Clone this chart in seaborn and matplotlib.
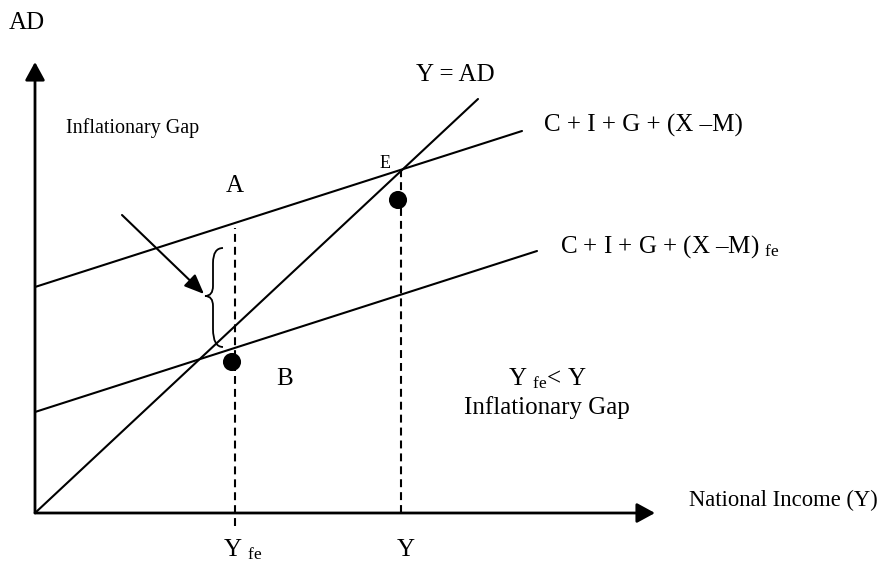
import matplotlib
matplotlib.use("Agg")
import matplotlib.pyplot as plt
import seaborn as sns
from matplotlib.path import Path
from matplotlib.patches import PathPatch

# Diagram values (units: screen-ish scale, origin at axes origin)
lineYAD_x = [0, 443]
lineYAD_y = [0, 414]
lineAE_x = [0, 487]
lineAE_y = [226, 382]
lineAEfe_x = [0, 502]
lineAEfe_y = [101, 262]
incomeLevels = [200, 366]          # Y_fe, Y
dashTop = [285, 344]
dashBottom = [-13, 0]
dot_x = [197, 363]
dot_y = [151, 313]
axisTop = 451
axisRight = 620


def drawDiagram() -> None:
    sns.set_theme(style="white")
    plt.rcParams["font.family"] = ["Liberation Serif", "DejaVu Serif"]
    plt.rcParams["mathtext.fontset"] = "custom"
    plt.rcParams["mathtext.rm"] = "Liberation Serif"
    plt.rcParams["mathtext.it"] = "Liberation Serif"
    plt.rcParams["text.color"] = "black"

    fig = plt.figure(figsize=(8.85, 5.63), dpi=100)
    ax = fig.add_axes([0, 0, 1, 1])
    ax.set_xlim(-35, 850)
    ax.set_ylim(-50, 513)
    ax.axis("off")

    # axes with arrowheads
    axisArrow = dict(arrowstyle="-|>,head_length=0.55,head_width=0.3",
                     color="black", lw=2, shrinkA=0, shrinkB=0, mutation_scale=20)
    ax.annotate("", xy=(0, axisTop), xytext=(0, 0), arrowprops=axisArrow)
    ax.annotate("", xy=(axisRight, 0), xytext=(0, 0), arrowprops=axisArrow)

    # the three schedules
    for xs, ys in [(lineYAD_x, lineYAD_y), (lineAE_x, lineAE_y), (lineAEfe_x, lineAEfe_y)]:
        sns.lineplot(x=xs, y=ys, ax=ax, color="black", lw=1.5)

    # dashed drop lines
    for xv, top, bot in zip(incomeLevels, dashTop, dashBottom):
        ax.plot([xv, xv], [bot, top], color="black", lw=1.5, dashes=(3.8, 2.4))

    sns.scatterplot(x=dot_x, y=dot_y, ax=ax, color="black", s=170, edgecolor="none", zorder=5)

    # curly brace
    verts = [(188, 265), (178, 265), (178, 250),
             (178, 227), (178, 217), (170, 217),
             (178, 217), (178, 207), (178, 184),
             (178, 166), (188, 166)]
    codes = [Path.MOVETO, Path.CURVE3, Path.CURVE3,
             Path.LINETO, Path.CURVE3, Path.CURVE3,
             Path.CURVE3, Path.CURVE3, Path.LINETO,
             Path.CURVE3, Path.CURVE3]
    ax.add_patch(PathPatch(Path(verts, codes), fill=False, lw=1.3, color="black"))

    # pointer arrow to the gap
    ax.annotate("", xy=(169, 219), xytext=(87, 298),
                arrowprops=dict(arrowstyle="-|>,head_length=0.6,head_width=0.25",
                                color="black", lw=1.5, shrinkA=0, shrinkB=0,
                                mutation_scale=20))

    big = 18
    small = 14.5
    ax.text(-8, 490, "AD", fontsize=big, ha="center", va="center")
    ax.text(98, 385, "Inflationary Gap", fontsize=small, ha="center", va="center")
    ax.text(200, 327, "A", fontsize=big, ha="center", va="center")
    ax.text(350, 350, "E", fontsize=13, ha="center", va="center")
    ax.text(250, 134, "B", fontsize=big, ha="center", va="center")
    ax.text(420, 438, "Y = AD", fontsize=big, ha="center", va="center")
    ax.text(509, 388, "C + I + G + (X \u2013M)", fontsize=big, ha="left", va="center")
    ax.text(525, 266, "C + I + G + (X \u2013M) $_{\\mathrm{fe}}$",
            fontsize=big, ha="left", va="center")
    ax.text(512, 134, r"Y $_{\mathrm{fe}}$< Y", fontsize=big, ha="center", va="center")
    ax.text(512, 105, "Inflationary Gap", fontsize=big, ha="center", va="center")
    ax.text(654, 13, "National Income (Y)", fontsize=16.3, ha="left", va="center")
    ax.text(188, -37, r"Y $_{\mathrm{fe}}$", fontsize=big, ha="left", va="center")
    ax.text(371, -37, "Y", fontsize=big, ha="center", va="center")

    fig.savefig("out.png", dpi=100)
    plt.close(fig)


if __name__ == "__main__":
    drawDiagram()
